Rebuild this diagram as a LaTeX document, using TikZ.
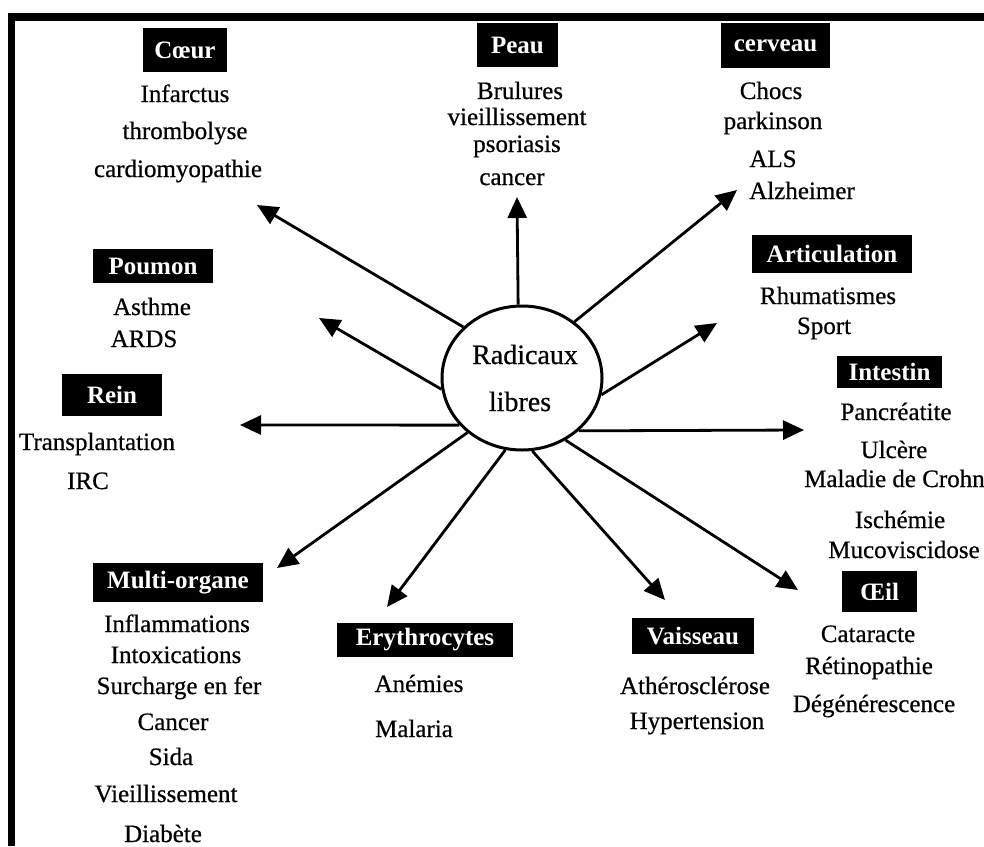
\documentclass[tikz,border=0pt]{standalone}
\usepackage{fontspec}
\setmainfont{Liberation Serif}
\newfontfamily\heavyfont[FakeBold=0.6]{Liberation Serif}
\usetikzlibrary{arrows.meta,shapes.geometric}
\tikzset{
  lab/.style={fill=black, text=white, font=\bfseries\fontsize{25}{30}\selectfont, inner sep=0pt},
  item/.style={font=\heavyfont\fontsize{25}{30}\selectfont, inner sep=0pt, anchor=base},
  big/.style={font=\heavyfont\fontsize{28}{32}\selectfont, inner sep=0pt, anchor=base},
  arr/.style={line width=2.8pt, -{Triangle[length=21pt,width=19pt]}},
}
\begin{document}
\begin{tikzpicture}[x=1pt,y=-1pt]
\useasboundingbox (0,0) rectangle (984,846);
% frame
\fill[black] (8,13) rectangle (984,21);
\fill[black] (8,13) rectangle (15,846);

% centre
\node[draw, ellipse, line width=3pt, minimum width=160pt, minimum height=144pt, inner sep=0pt] (ell) at (522,378) {};
\node[big] (r1) at (525,364) {Radicaux};
\node[big] (r2) at (520,411) {libres};

% Coeur
\node[lab, minimum width=84pt, minimum height=44pt] (Lcoeur) at (185,50) {Cœur};
\node[item] (c1) at (185,102) {Infarctus};
\node[item] (c2) at (185,139) {thrombolyse};
\node[item] (c3) at (178,177) {cardiomyopathie};

% Peau
\node[lab, minimum width=81pt, minimum height=44pt] (Lpeau) at (517.5,45) {Peau};
\node[item] (p1) at (520,99) {Brulures};
\node[item] (p2) at (517,125) {vieillissement};
\node[item] (p3) at (517,152) {psoriasis};
\node[item] (p4) at (512,185) {cancer};

% cerveau
\node[lab, minimum width=109pt, minimum height=45pt] (Lcerv) at (775.5,45.5) {cerveau};
\node[item] (v1) at (771,99) {Chocs};
\node[item] (v2) at (773,129) {parkinson};
\node[item] (v3) at (773,167) {ALS};
\node[item] (v4) at (802,199) {Alzheimer};

% Articulation
\node[lab, minimum width=160pt, minimum height=38pt] (Lart) at (832,253.5) {Articulation};
\node[item] (a1) at (828,304) {Rhumatismes};
\node[item] (a2) at (824,334) {Sport};

% Intestin
\node[lab, minimum width=105pt, minimum height=32pt] (Lint) at (889.5,372) {Intestin};
\node[item] (i1) at (896,420) {Pancréatite};
\node[item] (i2) at (894,458) {Ulcère};
\node[item, anchor=base west] (i3) at (804,487) {Maladie de Crohn};
\node[item] (i4) at (900,528) {Ischémie};
\node[item] (i5) at (904,558) {Mucoviscidose};

% Oeil
\node[lab, minimum width=75pt, minimum height=41pt] (Loeil) at (879.5,591.5) {Œil};
\node[item] (o1) at (868,642) {Cataracte};
\node[item] (o2) at (869,674) {Rétinopathie};
\node[item] (o3) at (874,712) {Dégénérescence};

% Vaisseau
\node[lab, minimum width=122pt, minimum height=36pt] (Lvais) at (693,636) {Vaisseau};
\node[item] (s1) at (695,694) {Athérosclérose};
\node[item] (s2) at (697,729) {Hypertension};

% Erythrocytes
\node[lab, minimum width=176pt, minimum height=34pt] (Lery) at (425,640) {Erythrocytes};
\node[item] (e1) at (419,692) {Anémies};
\node[item] (e2) at (414,737) {Malaria};

% Multi-organe
\node[lab, minimum width=170pt, minimum height=39pt] (Lmul) at (178,582.5) {Multi-organe};
\node[item] (m1) at (177,632) {Inflammations};
\node[item] (m2) at (176,663) {Intoxications};
\node[item] (m3) at (179,694) {Surcharge en fer};
\node[item] (m4) at (173,730) {Cancer};
\node[item] (m5) at (171,765) {Sida};
\node[item] (m6) at (166,802) {Vieillissement};
\node[item] (m7) at (163,842) {Diabète};

% Rein
\node[lab, minimum width=100pt, minimum height=42pt] (Lrein) at (112,395) {Rein};
\node[item] (n1) at (97,450) {Transplantation};
\node[item] (n2) at (88,489) {IRC};

% Poumon
\node[lab, minimum width=120pt, minimum height=34pt] (Lpou) at (153,266) {Poumon};
\node[item] (q1) at (152,315) {Asthme};
\node[item] (q2) at (144,347) {ARDS};

% arrow tips
\coordinate (tCoeur) at (257,205);
\coordinate (tPeau) at (517,197);
\coordinate (tCerv) at (737,190);
\coordinate (tArt) at (717,323);
\coordinate (tInt) at (804,430);
\coordinate (tOeil) at (798,590);
\coordinate (tVais) at (665,600);
\coordinate (tEry) at (387,607);
\coordinate (tMul) at (277,568);
\coordinate (tRein) at (240,425);
\coordinate (tPou) at (319,318);

\draw[arr] (ell.139.5) -- (tCoeur);
\draw[arr] (ell.93.9) -- (tPeau);
\draw[arr] (ell.47.2) -- (tCerv);
\draw[arr] (ell.-12.7) -- (tArt);
\draw[arr] (ell.-43.4) -- (tInt);
\draw[arr] (ell.-55.5) -- (tOeil);
\draw[arr] (ell.-82.4) -- (tVais);
\draw[arr] (ell.-103.6) -- (tEry);
\draw[arr] (ell.-135) -- (tMul);
\draw[arr] (ell.217.6) -- (tRein);
\draw[arr] (ell.188.6) -- (tPou);
\end{tikzpicture}
\end{document}
